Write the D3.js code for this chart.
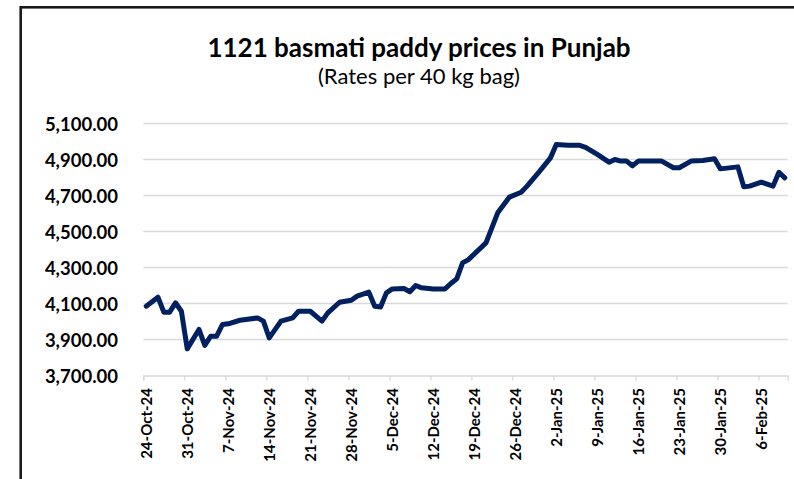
<!DOCTYPE html>
<html>
<head>
<meta charset="utf-8">
<script src="https://cdn.jsdelivr.net/npm/d3@7"></script>
<style>
  html, body { margin: 0; padding: 0; background: #fff; }
  svg { display: block; }
</style>
</head>
<body>
<div id="chart"></div>
<script>
const title = "1121 basmati paddy prices in Punjab";
const subtitle = "(Rates per 40 kg bag)";

const dates = [
  "2024-10-24","2024-10-26","2024-10-27","2024-10-28","2024-10-29","2024-10-30","2024-10-31",
  "2024-11-02","2024-11-03","2024-11-04","2024-11-05","2024-11-06","2024-11-07","2024-11-09",
  "2024-11-10","2024-11-12","2024-11-13","2024-11-14","2024-11-16","2024-11-18","2024-11-19",
  "2024-11-21","2024-11-23","2024-11-24","2024-11-26","2024-11-28","2024-11-29","2024-12-01",
  "2024-12-02","2024-12-03","2024-12-04","2024-12-05","2024-12-07","2024-12-08","2024-12-09",
  "2024-12-10","2024-12-12","2024-12-14","2024-12-15","2024-12-16","2024-12-17","2024-12-18",
  "2024-12-21","2024-12-22","2024-12-23","2024-12-25","2024-12-27","2024-12-28","2024-12-30",
  "2025-01-01","2025-01-02","2025-01-04","2025-01-06","2025-01-07","2025-01-09","2025-01-11",
  "2025-01-12","2025-01-13","2025-01-14","2025-01-15","2025-01-16","2025-01-20","2025-01-22",
  "2025-01-23","2025-01-25","2025-01-27","2025-01-29","2025-01-30","2025-02-02","2025-02-03",
  "2025-02-04","2025-02-06","2025-02-08","2025-02-09","2025-02-10"
];
const prices = [
  4085,4135,4052,4052,4104,4057,3848,
  3956,3867,3918,3918,3983,3987,4007,
  4011,4020,4002,3909,4002,4020,4057,
  4057,4002,4048,4107,4118,4141,4163,
  4085,4081,4159,4181,4183,4165,4200,
  4187,4181,4181,4211,4237,4326,4344,
  4437,4520,4604,4691,4718,4752,4829,
  4909,4983,4979,4979,4968,4928,4885,
  4900,4891,4891,4865,4891,4891,4854,
  4854,4891,4894,4904,4848,4859,4748,
  4752,4774,4752,4829,4798
];
const yTicks = [3700,3900,4100,4300,4500,4700,4900,5100];
const xTickLabels = ["24-Oct-24","31-Oct-24","7-Nov-24","14-Nov-24","21-Nov-24","28-Nov-24",
  "5-Dec-24","12-Dec-24","19-Dec-24","26-Dec-24","2-Jan-25","9-Jan-25","16-Jan-25",
  "23-Jan-25","30-Jan-25","6-Feb-25"];

const W = 794, H = 479;
const FONT = "Lato, 'Open Sans', sans-serif";
const parse = d3.utcParse("%Y-%m-%d");
const DAY = 864e5;

const svg = d3.select("#chart").append("svg").attr("width", W).attr("height", H);
svg.append("rect").attr("width", W).attr("height", H).attr("fill", "#fff");

// chart frame
svg.append("rect")
  .attr("x", 20.7).attr("y", 7.3).attr("width", W + 20).attr("height", H + 20)
  .attr("fill", "none").attr("stroke", "#1a1a1a").attr("stroke-width", 2.6);

const x = d3.scaleUtc()
  .domain([parse("2024-10-24"), parse("2025-02-11")])
  .range([143.3, 787.7]);
const y = d3.scaleLinear().domain([3700, 5100]).range([375.5, 123.5]);

// gridlines
svg.append("g").selectAll("line").data(yTicks.slice(1)).join("line")
  .attr("x1", x.range()[0]).attr("x2", x.range()[1])
  .attr("y1", d => y(d)).attr("y2", d => y(d))
  .attr("stroke", "#d9d9d9").attr("stroke-width", 1.3);

// y axis labels
const yAxis = d3.axisLeft(y).tickValues(yTicks).tickFormat(d3.format(",.2f")).tickSize(0).tickPadding(0);
const gy = svg.append("g").attr("transform", "translate(118,0)").call(yAxis);
gy.select(".domain").remove();
gy.selectAll("text")
  .attr("font-family", FONT).attr("font-weight", 700).attr("font-size", 18.5)
  .attr("fill", "#000").attr("dy", "0.36em");

// x axis
const tickDates = xTickLabels.map((_, i) => new Date(parse("2024-10-24").getTime() + i * 7 * DAY));
const xAxis = d3.axisBottom(x).tickValues(tickDates).tickSize(5).tickFormat("");
const gx = svg.append("g").attr("transform", `translate(0,${y(3700)})`).call(xAxis);
gx.select(".domain").attr("stroke", "#d9d9d9").attr("stroke-width", 1.3);
gx.selectAll(".tick line").attr("stroke", "#d9d9d9").attr("stroke-width", 1.3);

svg.append("g").selectAll("text").data(tickDates).join("text")
  .attr("transform", (d, i) => `translate(${x(new Date(d.getTime() + DAY / 2)) + 5.5},388) rotate(-90)`)
  .attr("text-anchor", "end")
  .attr("font-family", FONT).attr("font-weight", 700).attr("font-size", 15)
  .attr("fill", "#000")
  .text((d, i) => xTickLabels[i]);

// line
const data = dates.map((d, i) => ({ date: new Date(parse(d).getTime() + DAY / 2), value: prices[i] }));
svg.append("path").datum(data)
  .attr("fill", "none").attr("stroke", "#002060").attr("stroke-width", 5)
  .attr("stroke-linejoin", "round").attr("stroke-linecap", "round")
  .attr("d", d3.line().x(d => x(d.date)).y(d => y(d.value)));

// titles
svg.append("text").attr("x", 419).attr("y", 56.5).attr("text-anchor", "middle")
  .attr("font-family", FONT).attr("font-weight", 700).attr("font-size", 26)
  .attr("fill", "#000").text(title);
svg.append("text").attr("x", 419).attr("y", 83.5).attr("text-anchor", "middle")
  .attr("font-family", FONT).attr("font-weight", 400).attr("font-size", 22)
  .attr("fill", "#000").text(subtitle);
</script>
</body>
</html>
